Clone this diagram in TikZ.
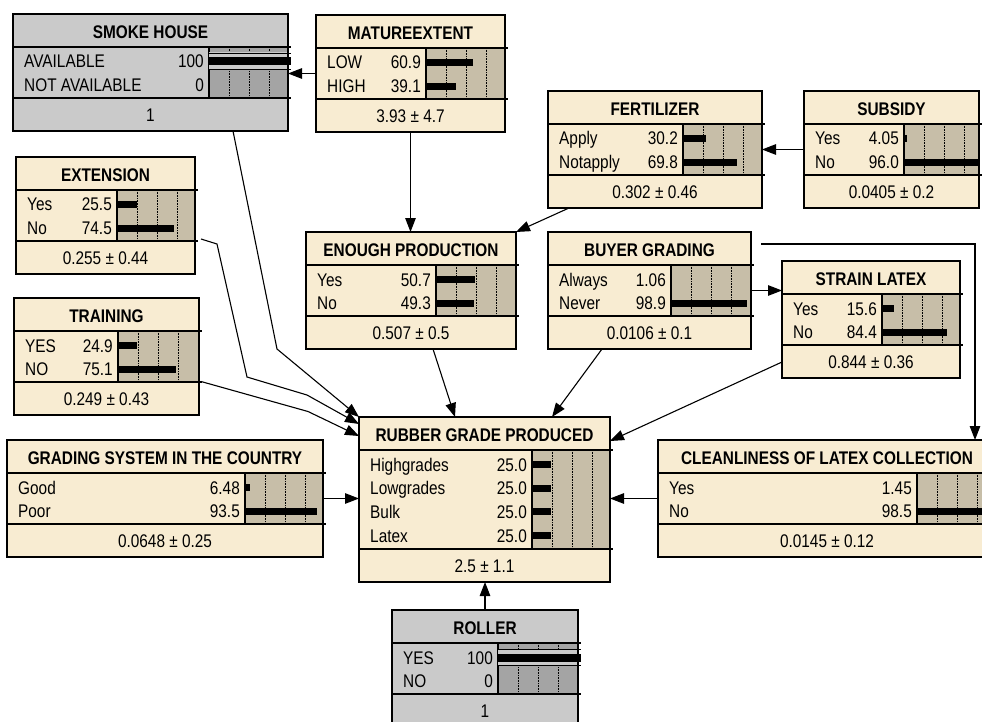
\documentclass[tikz,border=0pt]{standalone}
\usepackage{fontspec}
\newfontfamily\netfont{Liberation Sans}[FakeStretch=0.84]
\usepackage{tikz}
\usetikzlibrary{arrows.meta,calc}
\definecolor{cream}{RGB}{248,236,210}
\definecolor{bartan}{RGB}{199,190,168}
\definecolor{evlight}{RGB}{202,202,202}
\definecolor{evdark}{RGB}{164,164,164}
\newcommand{\netsize}{\fontsize{18.3}{20}\selectfont}
\tikzset{
    plainnode/.style={
           rectangle,
           inner sep=0pt, outer sep=0pt,
           anchor=north west,
           fill=cream,
           },
    evnode/.style={
           plainnode,
           fill=evlight,
           },
    plainbar/.style={fill=bartan},
    evbar/.style={fill=evdark},
    boxline/.style={draw=black, line width=2pt},
    sepline/.style={draw=black, line width=1.2pt},
    gridline/.style={draw=black, densely dotted, line width=0.6pt},
    probbar/.style={fill=black},
    headtxt/.style={font=\netfont\netsize\bfseries, inner sep=0pt, anchor=base},
    stxt/.style={font=\netfont\netsize, inner sep=0pt},
    link/.style={-{Triangle[length=14pt,width=10.5pt]}, line width=1.1pt},
}
% #1 style, #2 name, #3 top left, #4 width, #5 bar start, #6 states, #7 title, #8 state list, #9 mean
\newcommand{\netbox}[9][plain]{%
  \pgfmathsetmacro{\nbH}{69+24*#6}%
  \pgfmathsetmacro{\nbS}{36+24*#6}%
  \node[#1node, minimum width=#4pt, minimum height=\nbH pt] (#2) at #3 {};
  \begin{scope}[shift={(#2.north west)}]
    \fill[#1bar] (#5,33) rectangle (#4,\nbS);
    \foreach \g in {20,40,60} \draw[gridline] (#5+\g,33) -- (#5+\g,\nbS);
    \draw[sepline] (0,33) -- (#4+3,33) (0,\nbS) -- (#4+3,\nbS) (#5,33) -- (#5,\nbS);
    \node[headtxt] at (#4/2,24.8) {#7};
    \foreach \s/\v/\p [count=\i] in {#8} {
      \pgfmathsetmacro{\yc}{33+14.5+23.7*(\i-1)}
      \node[stxt, anchor=base west] at (11,\yc+6.5) {\s};
      \node[stxt, anchor=base east] at (#5-5,\yc+6.5) {\v};
      \ifdim\p pt>99pt
        \fill[evlight] (#5,\yc-9) rectangle (#4,\yc+8);
        \draw[line width=0.8pt] (#5,\yc-8.5) -- (#4+3,\yc-8.5) (#5,\yc+7.5) -- (#4+3,\yc+7.5);
        \fill[probbar] (#5,\yc-4) rectangle (#4+3,\yc+4);
      \else
        \fill[probbar] (#5,\yc-3.5) rectangle (#5+0.77*\p,\yc+3.5);
      \fi
    }
    \node[stxt, anchor=base] at (#4/2,\nbH-9.3) {#9};
    \draw[boxline] (0,0) rectangle (#4,\nbH);
  \end{scope}
}
\begin{document}
\begin{tikzpicture}[x=1pt,y=-1pt]
\useasboundingbox (0,0) rectangle (982,722);
\clip (0,0) rectangle (982,722);
\fill[white] (0,0) rectangle (982,722);
\netbox[ev]{smoke}{(13,14)}{275}{196}{2}{SMOKE HOUSE}{AVAILABLE/100/100,NOT AVAILABLE/0/0}{1}
\netbox{mature}{(316,15)}{189}{110}{2}{MATUREEXTENT}{LOW/60.9/60.9,HIGH/39.1/39.1}{3.93 ± 4.7}
\netbox{fert}{(548,91)}{214}{135}{2}{FERTILIZER}{Apply/30.2/30.2,Notapply/69.8/69.8}{0.302 ± 0.46}
\netbox{subsidy}{(804,91)}{175}{100}{2}{SUBSIDY}{Yes/4.05/4.05,No/96.0/96.0}{0.0405 ± 0.2}
\netbox{ext}{(16,157)}{179}{101}{2}{EXTENSION}{Yes/25.5/25.5,No/74.5/74.5}{0.255 ± 0.44}
\netbox{training}{(14,298)}{185}{104}{2}{TRAINING}{YES/24.9/24.9,NO/75.1/75.1}{0.249 ± 0.43}
\netbox{grading}{(7,440)}{316}{238}{2}{GRADING SYSTEM IN THE COUNTRY}{Good/6.48/6.48,Poor/93.5/93.5}{0.0648 ± 0.25}
\netbox{enough}{(306,232)}{210}{130}{2}{ENOUGH PRODUCTION}{Yes/50.7/50.7,No/49.3/49.3}{0.507 ± 0.5}
\netbox{buyer}{(548,232)}{203}{123}{2}{BUYER GRADING}{Always/1.06/1.06,Never/98.9/98.9}{0.0106 ± 0.1}
\netbox{strain}{(782,261)}{178}{100}{2}{STRAIN LATEX}{Yes/15.6/15.6,No/84.4/84.4}{0.844 ± 0.36}
\netbox{rubber}{(359,417)}{251}{173}{4}{RUBBER GRADE PRODUCED}{Highgrades/25.0/25,Lowgrades/25.0/25,Bulk/25.0/25,Latex/25.0/25}{2.5 ± 1.1}
\netbox{clean}{(658,440)}{338}{259}{2}{CLEANLINESS OF LATEX COLLECTION}{Yes/1.45/1.45,No/98.5/98.5}{0.0145 ± 0.12}
\netbox[ev]{roller}{(392,610)}{186}{106}{2}{ROLLER}{YES/100/100,NO/0/0}{1}
\draw[link] (mature.west) -- (mature.west -| smoke.east);
\draw[link] (mature.south) -- (mature.south |- enough.north);
\draw[link] (subsidy.west) -- (subsidy.west -| fert.east);
\draw[link] ($(fert.south west)+(21,0)$) -- (enough.north east);
\draw[link] ($(smoke.south west)+(220,0)$) -- ++(44,218) -- (rubber.north west);
\draw[link] ($(ext.east)+(6,23.5)$) -- ++(16,5) -- ++(30,133) -- ++(60,18) -- ($(rubber.north west)+(0,7)$);
\draw[link] ($(training.east)+(2,25)$) -- ++(107,30) -- ($(rubber.north west)+(0,19)$);
\draw[link] (grading.east) -- (grading.east -| rubber.west);
\draw[link] ($(enough.south west)+(127,0)$) -- ($(rubber.north west)+(96,0)$);
\draw[link] ($(buyer.south west)+(54,0)$) -- ($(rubber.north west)+(193,0)$);
\draw[link] (buyer.east) -- (buyer.east -| strain.west);
\draw[link] ($(buyer.north east)+(10,12)$) -| ($(clean.north west)+(317,0)$);
\draw[link] ($(strain.south west)+(0,-16)$) -- ($(rubber.north east)+(0,24)$);
\draw[link] (clean.west) -- (clean.west -| rubber.east);
\draw[link] (roller.north) -- (roller.north |- rubber.south);
\end{tikzpicture}
\end{document}
